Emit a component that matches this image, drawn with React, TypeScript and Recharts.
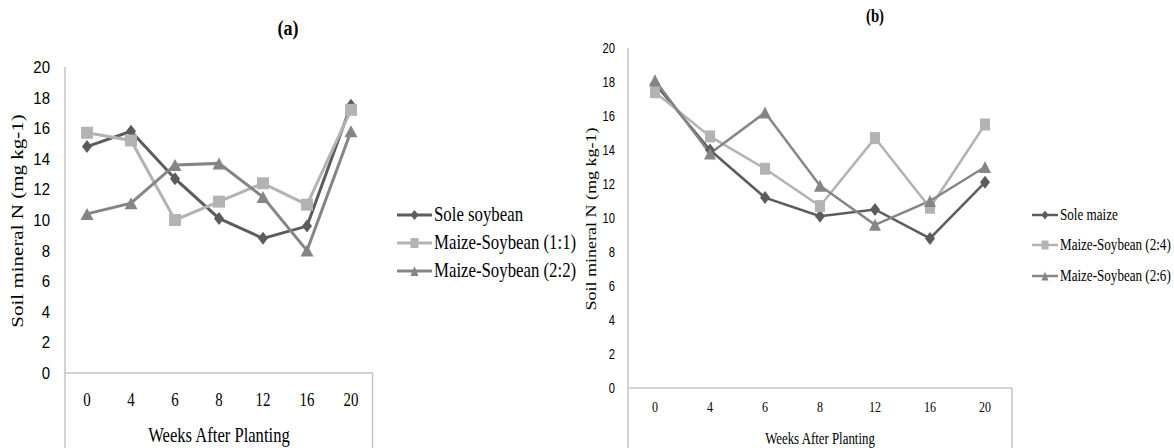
import React from 'react';
import { LineChart, Line, XAxis, YAxis, Legend } from 'recharts';

// ---------- data ----------
const weeks = ['0', '4', '6', '8', '12', '16', '20'];
const yTicks = [0, 2, 4, 6, 8, 10, 12, 14, 16, 18, 20];

// Panel (a)
const soleSoybean = [14.8, 15.8, 12.7, 10.1, 8.8, 9.6, 17.5];
const maizeSoy11 = [15.7, 15.2, 10.0, 11.2, 12.4, 11.0, 17.2];
const maizeSoy22 = [10.4, 11.1, 13.6, 13.7, 11.5, 8.0, 15.8];

// Panel (b)
const soleMaize = [17.9, 14.0, 11.2, 10.1, 10.5, 8.8, 12.1];
const maizeSoy24 = [17.4, 14.8, 12.9, 10.7, 14.7, 10.6, 15.5];
const maizeSoy26 = [18.1, 13.8, 16.2, 11.9, 9.6, 11.0, 13.0];

const dataA = weeks.map((w, i) => ({ week: w, s1: soleSoybean[i], s2: maizeSoy11[i], s3: maizeSoy22[i] }));
const dataB = weeks.map((w, i) => ({ week: w, s1: soleMaize[i], s2: maizeSoy24[i], s3: maizeSoy26[i] }));

// ---------- styles ----------
const C_DARK = '#5c5c5c';
const C_LIGHT = '#b3b3b3';
const C_MID = '#858585';
const AXIS = '#c4c4c4';
const SERIF = 'Liberation Serif, Times New Roman, serif';
const SANS = 'Liberation Sans, Arial, sans-serif';

const shapeOf: Record<string, string> = { s1: 'diamond', s2: 'square', s3: 'triangle' };

function Marker({ shape, cx, cy, color, w, h }: any) {
  if (shape === 'diamond') {
    return <polygon points={`${cx},${cy - h / 2} ${cx + w / 2},${cy} ${cx},${cy + h / 2} ${cx - w / 2},${cy}`} fill={color} />;
  }
  if (shape === 'square') {
    return <rect x={cx - w / 2} y={cy - h / 2} width={w} height={h} fill={color} />;
  }
  return <polygon points={`${cx},${cy - h / 2} ${cx + w / 2},${cy + h / 2} ${cx - w / 2},${cy + h / 2}`} fill={color} />;
}

function makeDot(shape: string, color: string, w: number, h: number) {
  return (props: any) => {
    const { cx, cy, index } = props;
    if (cx == null || cy == null) return <g key={`${shape}-${index}`} />;
    return <Marker key={`${shape}-${index}`} shape={shape} cx={cx} cy={cy} color={color} w={w} h={h} />;
  };
}

function SText({ x, y, size, family = SERIF, weight = 'normal', anchor = 'middle', sx = 0.8, rot = false, fill = '#000', children }: any) {
  const t = `translate(${x},${y}) scale(${sx},1)${rot ? ' rotate(-90)' : ''}`;
  return (
    <text transform={t} fontSize={size} style={{ fontFamily: family }} fontWeight={weight} textAnchor={anchor} fill={fill}>
      {children}
    </text>
  );
}

function makeLegend(opts: { rows: number[]; x1: number; x2: number; tx: number; size: number; sx: number; lw: number; mw: number; mh: number; w: number; h: number }) {
  return (props: any) => {
    const payload = [...(props.payload || [])].sort((a: any, b: any) => String(a.dataKey).localeCompare(String(b.dataKey)));
    return (
      <svg width={opts.w} height={opts.h} style={{ display: 'block', overflow: 'visible' }}>
        {payload.map((e: any, i: number) => {
          const y = opts.rows[i];
          const shape = shapeOf[e.dataKey as string];
          return (
            <g key={`lg-${i}`}>
              <line x1={opts.x1} x2={opts.x2} y1={y} y2={y} stroke={e.color} strokeWidth={opts.lw} />
              <Marker shape={shape} cx={(opts.x1 + opts.x2) / 2} cy={y} color={e.color} w={opts.mw} h={opts.mh} />
              <SText x={opts.tx} y={y + opts.size * 0.3} size={opts.size} anchor="start" sx={opts.sx}>
                {e.value}
              </SText>
            </g>
          );
        })}
      </svg>
    );
  };
}

function App() {
  return (
    <div style={{ position: 'absolute', left: 0, top: 0, width: 1174, height: 448, background: '#fff', overflow: 'hidden' }}>
      {/* titles */}
      <svg width={1174} height={448} style={{ position: 'absolute', left: 0, top: 0, pointerEvents: 'none' }}>
        <SText x={288} y={35} size={22} weight="bold" sx={0.82}>(a)</SText>
        <SText x={875} y={22} size={18} weight="bold" sx={0.82}>(b)</SText>
        {/* frame extensions below the category axes */}
        <line x1={65} x2={65} y1={373} y2={448} stroke={AXIS} strokeWidth={1.5} />
        <line x1={372.5} x2={372.5} y1={373} y2={448} stroke={AXIS} strokeWidth={1.5} />
        <line x1={628} x2={628} y1={388} y2={448} stroke={AXIS} strokeWidth={1.5} />
        <line x1={1012} x2={1012} y1={388} y2={448} stroke={AXIS} strokeWidth={1.5} />
      </svg>

      {/* Panel (a) */}
      <div style={{ position: 'absolute', left: 0, top: 0 }}>
        <LineChart width={580} height={448} data={dataA} margin={{ top: 67, right: 207, bottom: 35, left: 25 }}>
          <XAxis
            dataKey="week"
            height={40}
            padding={{ left: 22, right: 22 }}
            axisLine={{ stroke: AXIS, strokeWidth: 1.5 }}
            tickLine={false}
            tickSize={0}
            tickMargin={0}
            interval={0}
            tick={(p: any) => (
              <SText x={p.x} y={p.y + 33} size={18} sx={0.83}>{p.payload.value}</SText>
            )}
            label={() => (
              <SText x={219} y={442} size={20} sx={0.83}>Weeks After Planting</SText>
            )}
          />
          <YAxis
            width={40}
            domain={[0, 20]}
            ticks={yTicks}
            interval={0}
            axisLine={{ stroke: AXIS, strokeWidth: 1.5 }}
            tickLine={false}
            tickSize={0}
            tickMargin={15}
            tick={(p: any) => (
              <SText x={p.x} y={p.y + 6} size={17} family={SANS} anchor="end" sx={0.88}>{p.payload.value}</SText>
            )}
            label={() => (
              <SText x={23} y={221} size={21} rot sx={0.8}>Soil mineral N (mg kg-1)</SText>
            )}
          />
          <Legend
            layout="horizontal"
            align="center"
            verticalAlign="middle"
            width={190}
            height={100}
            wrapperStyle={{ left: 390, top: 195, width: 190, height: 100 }}
            content={makeLegend({ rows: [20, 48, 76], x1: 7, x2: 42, tx: 44, size: 21, sx: 0.8, lw: 3, mw: 8, mh: 10, w: 190, h: 100 })}
          />
          <Line name="Sole soybean" dataKey="s1" stroke={C_DARK} strokeWidth={3} isAnimationActive={false} dot={makeDot('diamond', C_DARK, 10, 13)} activeDot={false} />
          <Line name="Maize-Soybean (1:1)" dataKey="s2" stroke={C_LIGHT} strokeWidth={3} isAnimationActive={false} dot={makeDot('square', C_LIGHT, 12, 12)} activeDot={false} />
          <Line name="Maize-Soybean (2:2)" dataKey="s3" stroke={C_MID} strokeWidth={3} isAnimationActive={false} dot={makeDot('triangle', C_MID, 13, 12)} activeDot={false} />
        </LineChart>
      </div>

      {/* Panel (b) */}
      <div style={{ position: 'absolute', left: 580, top: 0 }}>
        <LineChart width={594} height={448} data={dataB} margin={{ top: 48, right: 162, bottom: 20, left: 8 }}>
          <XAxis
            dataKey="week"
            height={40}
            padding={{ left: 27, right: 27 }}
            axisLine={{ stroke: AXIS, strokeWidth: 1.5 }}
            tickLine={false}
            tickSize={0}
            tickMargin={0}
            interval={0}
            tick={(p: any) => (
              <SText x={p.x} y={p.y + 24} size={15} sx={0.8}>{p.payload.value}</SText>
            )}
            label={() => (
              <SText x={240} y={444} size={16.5} sx={0.78}>Weeks After Planting</SText>
            )}
          />
          <YAxis
            width={40}
            domain={[0, 20]}
            ticks={yTicks}
            interval={0}
            axisLine={{ stroke: AXIS, strokeWidth: 1.5 }}
            tickLine={false}
            tickSize={0}
            tickMargin={13}
            tick={(p: any) => (
              <SText x={p.x} y={p.y + 5} size={14} family={SANS} anchor="end" sx={0.8}>{p.payload.value}</SText>
            )}
            label={() => (
              <SText x={16} y={219} size={18} rot sx={0.78}>Soil mineral N (mg kg-1)</SText>
            )}
          />
          <Legend
            layout="horizontal"
            align="center"
            verticalAlign="middle"
            width={150}
            height={100}
            wrapperStyle={{ left: 445, top: 200, width: 150, height: 100 }}
            content={makeLegend({ rows: [15, 45, 76], x1: 7, x2: 33, tx: 35, size: 17, sx: 0.77, lw: 2.5, mw: 7, mh: 9, w: 150, h: 100 })}
          />
          <Line name="Sole maize" dataKey="s1" stroke={C_DARK} strokeWidth={2.5} isAnimationActive={false} dot={makeDot('diamond', C_DARK, 10, 13)} activeDot={false} />
          <Line name="Maize-Soybean (2:4)" dataKey="s2" stroke={C_LIGHT} strokeWidth={2.5} isAnimationActive={false} dot={makeDot('square', C_LIGHT, 10, 12)} activeDot={false} />
          <Line name="Maize-Soybean (2:6)" dataKey="s3" stroke={C_MID} strokeWidth={2.5} isAnimationActive={false} dot={makeDot('triangle', C_MID, 12, 12)} activeDot={false} />
        </LineChart>
      </div>
    </div>
  );
}

export default App;
